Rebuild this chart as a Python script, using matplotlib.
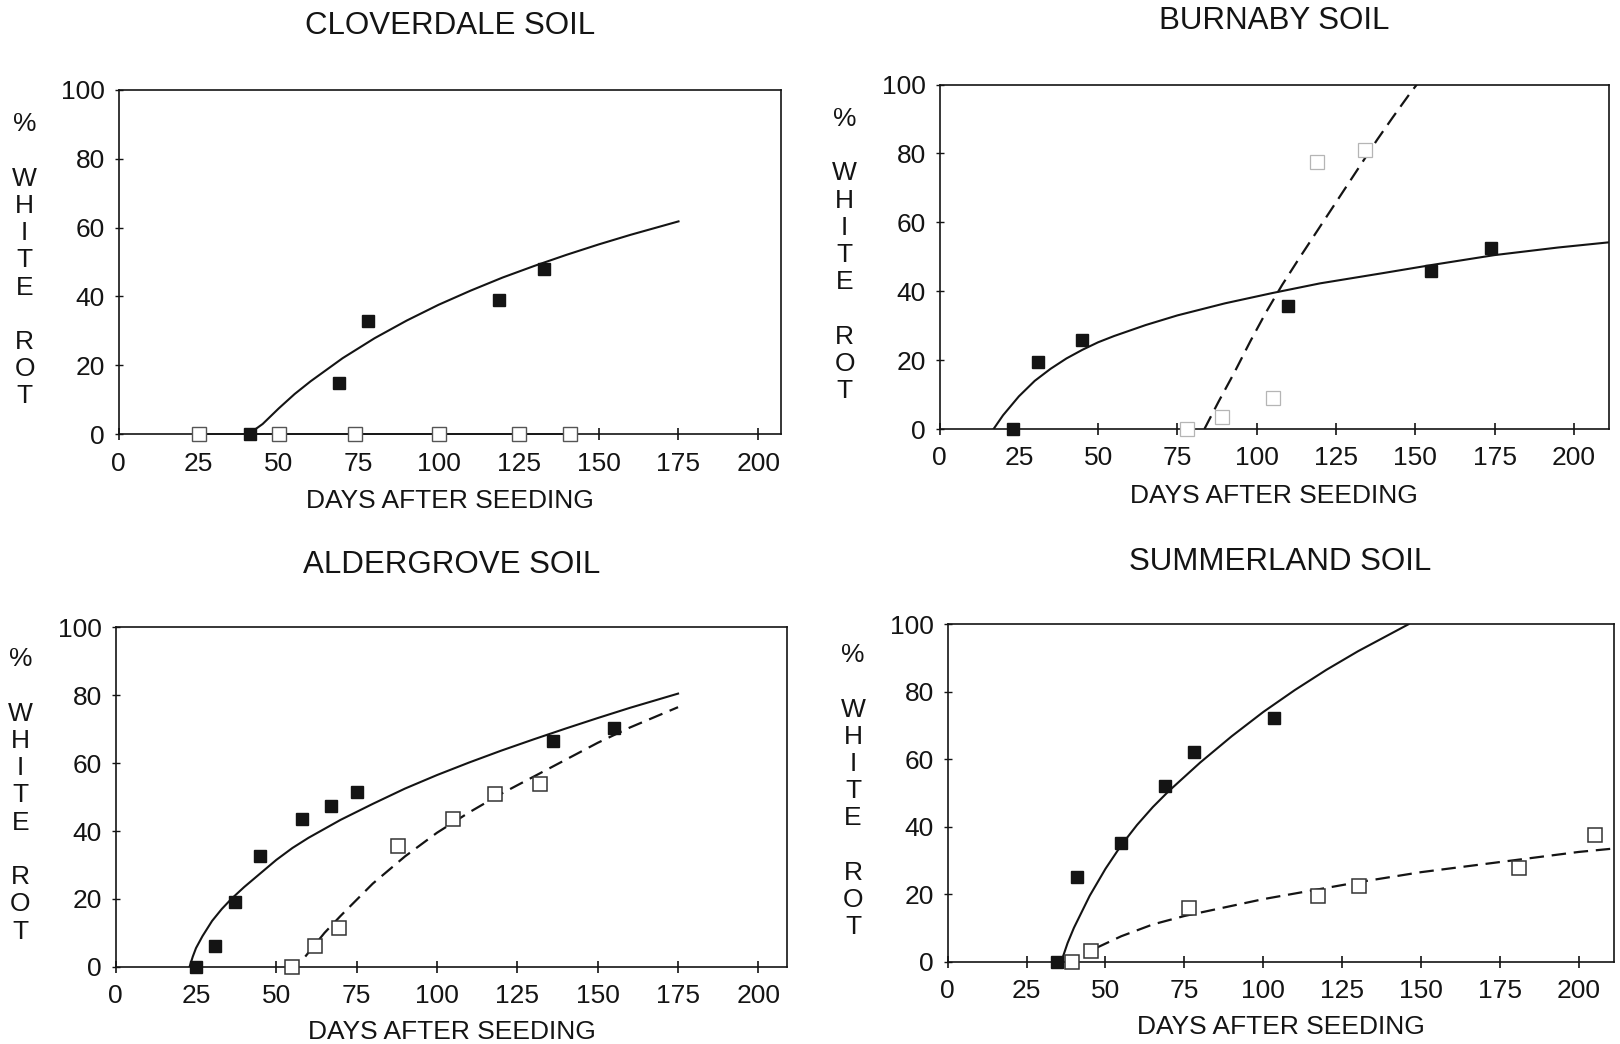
import matplotlib
matplotlib.use('Agg')
import matplotlib.pyplot as plt

plt.rcParams['font.family'] = ['Liberation Sans', 'DejaVu Sans']

# ---- datos (dias, % white rot) ----
# Cloverdale
clov_fill_x = [41, 69, 78, 119, 133]
clov_fill_y = [0, 15, 33, 39, 48]
clov_open_x = [25, 50, 74, 100, 125, 141]
clov_open_y = [0, 0, 0, 0, 0, 0]
clov_curve_x = [41, 42, 45, 50, 55, 60, 70, 80, 90, 100, 110, 120, 130, 140, 150, 160, 175]
clov_curve_y = [0, 1, 3, 7.5, 11.7, 15.4, 22.1, 27.9, 33, 37.6, 41.7, 45.5, 48.9, 52.1, 55.1, 57.9, 61.8]

# Burnaby
burn_fill_x = [23, 31, 45, 110, 155, 174]
burn_fill_y = [0, 19.5, 26, 35.8, 45.8, 52.5]
burn_open_x = [78, 89, 105, 119, 134]
burn_open_y = [0, 3.5, 9, 77.5, 81]
burn_curve_x = [17, 20, 25, 30, 35, 40, 45, 50, 55, 65, 75, 90, 105, 120, 140, 155, 175, 195, 211]
burn_curve_y = [0, 4, 9.5, 14, 17.5, 20.5, 23, 25.2, 27, 30.2, 33, 36.5, 39.5, 42.3, 45.3, 47.6, 50.5, 52.7, 54.2]
burn_dash_x = [83.5, 88, 93, 98, 103, 108, 113, 118, 123, 128, 133, 138, 143, 148, 150.5]
burn_dash_y = [0, 8, 16.5, 25.5, 34, 41.8, 49, 56, 63, 70, 77, 84, 90.6, 97, 100]

# Aldergrove
ald_fill_x = [25, 31, 37, 45, 58, 67, 75, 136, 155]
ald_fill_y = [0, 6, 19, 32.5, 43.5, 47.5, 51.5, 66.5, 70.5]
ald_open_x = [55, 62, 69.5, 88, 105, 118, 132]
ald_open_y = [0, 6, 11.5, 35.7, 43.6, 51, 54]
ald_curve_x = [23, 24, 25, 27, 30, 33, 36, 40, 45, 50, 55, 60, 70, 80, 90, 100, 110, 120, 130, 140, 150, 160, 175]
ald_curve_y = [0, 3, 5.5, 9, 13.5, 17, 20, 23.5, 27.5, 31.5, 35, 38, 43.3, 48, 52.5, 56.5, 60.2, 63.7, 67, 70.2, 73.3, 76.3, 80.5]
ald_dash_x = [59, 65, 70, 80, 90, 100, 110, 120, 130, 140, 150, 160, 175]
ald_dash_y = [3, 10, 15, 24.5, 32.5, 39.5, 45.5, 51, 56, 61, 66, 70.5, 76.5]

# Summerland
summ_fill_x = [34.5, 41, 55, 69, 78, 103.5]
summ_fill_y = [0, 25.2, 35.2, 52, 62, 72.2]
summ_open_x = [39.5, 45.5, 76.5, 117.5, 130.5, 181, 205]
summ_open_y = [0, 3.2, 16, 19.5, 22.3, 27.8, 37.5]
summ_curve_x = [36, 38, 40, 45, 50, 55, 60, 65, 70, 80, 90, 100, 110, 120, 130, 140, 146]
summ_curve_y = [0, 5.5, 10, 19.5, 27.5, 34.5, 40.5, 45.8, 50.5, 59, 66.8, 74, 80.5, 86.5, 92, 97, 100]
summ_dash_x = [47, 55, 65, 75, 90, 100, 115, 130, 150, 175, 200, 211]
summ_dash_y = [4, 7.5, 11, 13.5, 16.5, 18.5, 21, 23.5, 26.5, 29.5, 32.5, 33.5]

x_ticks = [0, 25, 50, 75, 100, 125, 150, 175, 200]
y_ticks = [0, 20, 40, 60, 80, 100]

INK = '#141414'


def setup_axes(ax, title, xmax):
    ax.set_xlim(0, xmax)
    ax.set_ylim(0, 100)
    ax.set_xticks(x_ticks)
    ax.set_yticks(y_ticks)
    for s in ax.spines.values():
        s.set_linewidth(1.2)
        s.set_color(INK)
    ax.tick_params(axis='x', direction='inout', length=9, width=1.2, pad=8,
                   labelsize=19, colors=INK)
    ax.tick_params(axis='y', direction='inout', length=6, width=1.0, pad=7,
                   labelsize=19, colors=INK)
    ax.text(0.5, 1.185, title, transform=ax.transAxes, ha='center', va='center',
            fontsize=22.5, color=INK)
    ax.text(0.5, -0.193, 'DAYS AFTER SEEDING', transform=ax.transAxes,
            ha='center', va='center', fontsize=19, color=INK)
    # etiqueta vertical letra por letra
    ax.text(-0.142, 0.505, '%\n\nW\nH\nI\nT\nE\n\nR\nO\nT', transform=ax.transAxes,
            ha='center', va='center', fontsize=19, color=INK, linespacing=1.17)


def filled(ax, x, y):
    ax.plot(x, y, ls='none', marker='s', ms=8, mfc=INK, mec=INK, clip_on=False, zorder=5)


def hollow(ax, x, y, ec=INK, lw=1.1):
    ax.plot(x, y, ls='none', marker='s', ms=9.5, mfc='white', mec=ec, mew=lw,
            clip_on=False, zorder=5)


def curve(ax, x, y, dashed=False):
    if dashed:
        ax.plot(x, y, color=INK, lw=1.6, ls=(0, (6.5, 3.5)), zorder=4)
    else:
        ax.plot(x, y, color=INK, lw=1.5, zorder=4)


fig = plt.figure(figsize=(16.2, 10.44), dpi=100)
ax1 = fig.add_axes([0.0733, 0.584, 0.4087, 0.330])
ax2 = fig.add_axes([0.580, 0.589, 0.413, 0.330])
ax3 = fig.add_axes([0.0714, 0.074, 0.4146, 0.325])
ax4 = fig.add_axes([0.585, 0.079, 0.411, 0.323])

# Cloverdale
setup_axes(ax1, 'CLOVERDALE SOIL', 207)
curve(ax1, clov_curve_x, clov_curve_y)
ax1.plot(clov_open_x, clov_open_y, color=INK, lw=1.2, clip_on=False)
hollow(ax1, clov_open_x, clov_open_y, ec='#555555', lw=1.0)
filled(ax1, clov_fill_x, clov_fill_y)

# Burnaby
setup_axes(ax2, 'BURNABY SOIL', 211)
curve(ax2, burn_curve_x, burn_curve_y)
curve(ax2, burn_dash_x, burn_dash_y, dashed=True)
hollow(ax2, burn_open_x, burn_open_y, ec='#b5b5b5', lw=0.9)
filled(ax2, burn_fill_x, burn_fill_y)

# Aldergrove
setup_axes(ax3, 'ALDERGROVE SOIL', 209)
curve(ax3, ald_curve_x, ald_curve_y)
curve(ax3, ald_dash_x, ald_dash_y, dashed=True)
hollow(ax3, ald_open_x, ald_open_y, ec='#333333')
filled(ax3, ald_fill_x, ald_fill_y)

# Summerland
setup_axes(ax4, 'SUMMERLAND SOIL', 211)
curve(ax4, summ_curve_x, summ_curve_y)
curve(ax4, summ_dash_x, summ_dash_y, dashed=True)
hollow(ax4, summ_open_x, summ_open_y, ec='#333333')
filled(ax4, summ_fill_x, summ_fill_y)

fig.savefig('out.png', dpi=100, facecolor='white')
